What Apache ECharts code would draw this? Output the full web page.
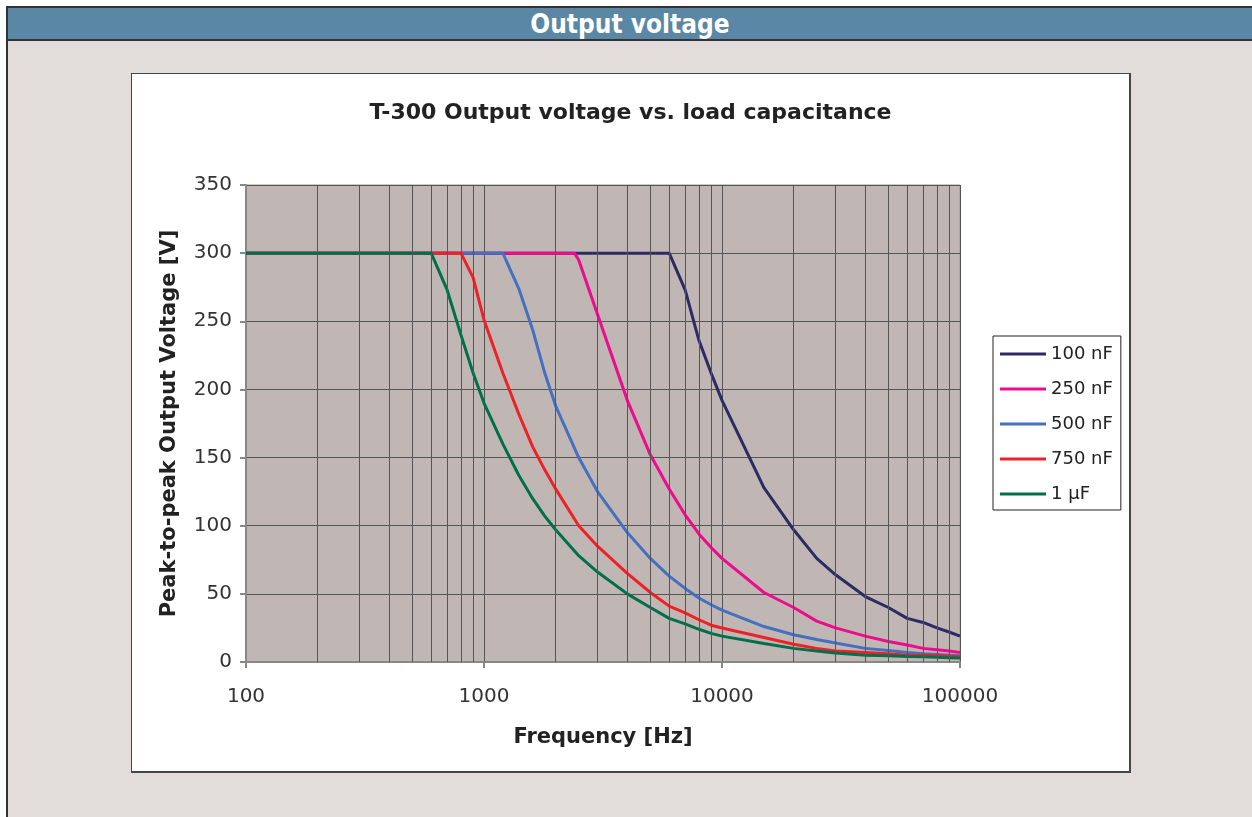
<!DOCTYPE html>
<html>
<head>
<meta charset="utf-8">
<script src="https://cdn.jsdelivr.net/npm/echarts@6/dist/echarts.min.js"></script>
<style>
  body { margin: 0; background: #fff; width: 1252px; height: 817px; overflow: hidden; position: relative; }
  #frame { position: absolute; left: 6px; top: 6px; right: 0; bottom: 0; background: #e2dddb; border-left: 2px solid #333; border-top: 2px solid #333; }
  #header { height: 31px; background: #5a87a5; border-bottom: 2px solid #333; color: #fff; text-align: center;
    font: bold 26px "DejaVu Sans Condensed", "DejaVu Sans", sans-serif; line-height: 33px; overflow: hidden; }
  #box { position: absolute; left: 131px; top: 73px; width: 1000px; height: 700px; box-sizing: border-box;
    background: #fff; border: 1px solid #444; border-right-width: 2px; border-bottom-width: 2px; }
  #chart { position: absolute; left: 132px; top: 74px; width: 997px; height: 697px; }
</style>
</head>
<body>
<div id="frame"><div id="header">Output voltage</div></div>
<div id="box"></div>
<div id="chart"></div>
<script>
// Frequency [Hz], peak-to-peak voltage [V]
const c100nF = [[100, 300], [6000, 300], [7000, 273], [8000, 236], [9000, 212], [10000, 192], [15000, 128], [20000, 97],
  [25000, 76], [30000, 64], [40000, 48], [50000, 40], [60000, 32], [70000, 29], [80000, 25], [90000, 22], [100000, 19]];
const c250nF = [[100, 300], [2400, 300], [2500, 295], [3000, 255], [4000, 192], [5000, 152], [6000, 127], [7000, 108],
  [8000, 94], [9000, 84], [10000, 76], [15000, 51], [20000, 40], [25000, 30], [30000, 25], [40000, 19], [50000, 15],
  [60000, 12.5], [70000, 10], [80000, 9], [90000, 8], [100000, 7]];
const c500nF = [[100, 300], [1200, 300], [1400, 274], [1600, 244], [1800, 212], [2000, 188], [2500, 150], [3000, 125],
  [4000, 95], [5000, 76], [6000, 63], [7000, 54], [8000, 47], [9000, 42], [10000, 38], [15000, 26], [20000, 20],
  [25000, 16.5], [30000, 14], [40000, 10], [50000, 8.5], [60000, 7], [70000, 6], [80000, 5.5], [90000, 5], [100000, 4.5]];
const c750nF = [[100, 300], [800, 300], [900, 282], [1000, 251], [1200, 212], [1400, 182], [1600, 158], [1800, 141],
  [2000, 127], [2500, 100], [3000, 85], [4000, 65], [5000, 51], [6000, 41], [7000, 36], [8000, 31], [9000, 27],
  [10000, 25], [15000, 18], [20000, 13], [25000, 10], [30000, 8], [40000, 7], [50000, 6], [60000, 5], [70000, 5],
  [80000, 4.5], [90000, 4], [100000, 3.7]];
const c1uF = [[100, 300], [600, 300], [700, 273], [800, 240], [900, 212], [1000, 190], [1200, 160], [1400, 137],
  [1600, 120], [1800, 107], [2000, 97], [2500, 78], [3000, 66], [4000, 50], [5000, 40], [6000, 32], [7000, 28],
  [8000, 24], [9000, 21], [10000, 19], [15000, 13.5], [20000, 10], [25000, 8], [30000, 6.6], [40000, 5], [50000, 4.5],
  [60000, 4], [70000, 3.8], [80000, 3.5], [90000, 3.2], [100000, 3]];

const seriesNames = ['100 nF', '250 nF', '500 nF', '750 nF', '1 µF'];
const seriesData = [c100nF, c250nF, c500nF, c750nF, c1uF];
const seriesColors = ['#2c2b62', '#ec0c8c', '#4470bf', '#ee2226', '#00704a'];

// minor vertical gridlines of the log axis
const minorFreqs = [200, 300, 400, 500, 600, 700, 800, 900,
  2000, 3000, 4000, 5000, 6000, 7000, 8000, 9000,
  20000, 30000, 40000, 50000, 60000, 70000, 80000, 90000];

const chart = echarts.init(document.getElementById('chart'));
const font = '"DejaVu Sans", Verdana, sans-serif';

chart.setOption({
  animation: false,
  title: {
    text: 'T-300 Output voltage vs. load capacitance',
    left: 'center',
    top: 23,
    textStyle: { fontFamily: font, fontSize: 22, fontWeight: 'bold', color: '#222' },
  },
  legend: {
    orient: 'vertical',
    left: 861,
    top: 262,
    data: seriesNames,
    icon: 'rect',
    itemWidth: 46,
    itemHeight: 3,
    itemGap: 15,
    padding: [8, 8, 6, 7],
    backgroundColor: '#fff',
    borderColor: '#222',
    borderWidth: 1,
    borderRadius: 0,
    textStyle: { fontFamily: font, fontSize: 18, color: '#222', lineHeight: 20 },
  },
  grid: {
    left: 114, top: 111, width: 714, height: 477,
    show: true, backgroundColor: '#c0b7b4', borderColor: '#999', borderWidth: 1,
  },
  xAxis: {
    type: 'log',
    logBase: 10,
    min: 100,
    max: 100000,
    name: 'Frequency [Hz]',
    nameLocation: 'middle',
    nameGap: 65,
    nameTextStyle: { fontFamily: font, fontSize: 21, fontWeight: 'bold', color: '#222' },
    axisLine: { lineStyle: { color: '#888', width: 2 } },
    axisTick: { show: true, length: 6, lineStyle: { color: '#888', width: 2 } },
    axisLabel: { fontFamily: font, fontSize: 20, color: '#333', margin: 25, formatter: (v) => String(v) },
    splitLine: { show: true, lineStyle: { color: '#555', width: 1 } },
  },
  yAxis: {
    type: 'value',
    min: 0,
    max: 350,
    interval: 50,
    name: 'Peak-to-peak Output Voltage [V]',
    nameLocation: 'middle',
    nameGap: 66,
    nameTextStyle: { fontFamily: font, fontSize: 21, fontWeight: 'bold', color: '#222' },
    axisLine: { show: true, lineStyle: { color: '#888', width: 2 } },
    axisTick: { show: true, length: 6, lineStyle: { color: '#888', width: 2 } },
    axisLabel: { fontFamily: font, fontSize: 20, color: '#333', margin: 14 },
    splitLine: { show: true, lineStyle: { color: '#555', width: 1 } },
  },
  series: [
    {
      type: 'line',
      name: 'grid',
      data: [],
      silent: true,
      markLine: {
        silent: true,
        symbol: 'none',
        label: { show: false },
        lineStyle: { color: '#555', width: 1, type: 'solid' },
        data: minorFreqs.map((f) => ({ xAxis: f })),
      },
    },
    ...seriesNames.map((name, i) => ({
      type: 'line',
      name: name,
      data: seriesData[i],
      symbol: 'none',
      color: seriesColors[i],
      lineStyle: { width: 3, color: seriesColors[i] },
    })),
  ],
});
</script>
</body>
</html>
